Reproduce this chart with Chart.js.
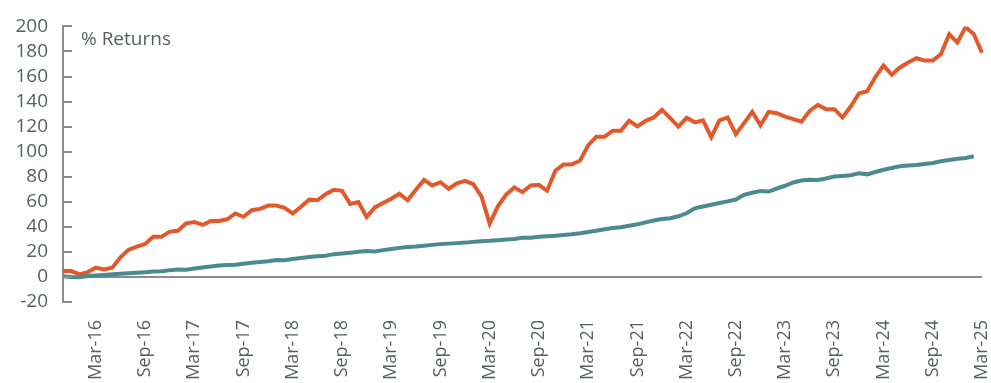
<!DOCTYPE html>
<html>
<head>
<meta charset="utf-8">
<script src="https://cdn.jsdelivr.net/npm/chart.js@4"></script>
<style>
  html, body { margin: 0; padding: 0; background: #ffffff; }
  #wrap { width: 991px; height: 383px; }
</style>
</head>
<body>
<div id="wrap"><canvas id="chart" width="991" height="383"></canvas></div>
<script>
// Month labels, Nov-15 through Mar-25
const months = ['Jan','Feb','Mar','Apr','May','Jun','Jul','Aug','Sep','Oct','Nov','Dec'];
const categories = [];
for (let y = 2015, m = 10; y < 2025 || (y === 2025 && m <= 2); ) {
  categories.push(months[m] + '-' + String(y).slice(2));
  m++; if (m === 12) { m = 0; y++; }
}

// Cumulative % returns, orange series
const seriesOrange = [
  4.7, 4.7, 2.1, 3.9, 7.4, 6.0, 7.4, 15.7, 21.8, 24.2, 26.3, 32.0,
  32.0, 36.2, 36.8, 42.8, 43.9, 41.5, 44.6, 44.6, 46.0, 50.7, 48.0, 53.3,
  54.3, 57.0, 57.0, 55.1, 50.7, 56.0, 61.7, 61.2, 66.0, 69.6, 68.8, 58.3,
  59.8, 47.8, 55.5, 59.0, 62.5, 66.4, 61.2, 69.6, 77.5, 73.0, 75.6, 70.4,
  74.8, 76.7, 74.0, 64.3, 42.5, 56.4, 65.7, 71.4, 67.7, 73.0, 73.5, 68.8,
  84.8, 89.8, 89.8, 92.7, 105.0, 112.0, 112.0, 116.8, 116.8, 124.7, 120.2, 124.7,
  127.3, 133.5, 126.8, 120.0, 127.0, 123.4, 125.0, 111.6, 125.0, 127.3, 114.0, 122.8,
  131.8, 121.0, 131.8, 130.7, 128.0, 126.0, 124.0, 132.6, 137.3, 133.9, 133.9, 127.3,
  136.0, 146.5, 148.3, 159.6, 168.8, 161.4, 167.2, 171.2, 174.6, 172.7, 172.7, 178.0,
  193.7, 187.2, 199.5, 193.7, 179.0
];

// Cumulative % returns, teal series (ends Feb-25)
const seriesTeal = [
  0.5, 0.0, -0.3, 0.8, 1.2, 1.6, 2.1, 2.5, 2.9, 3.4, 3.8, 4.3,
  4.6, 5.4, 5.9, 5.7, 6.8, 7.6, 8.4, 9.1, 9.5, 9.8, 10.6, 11.3,
  11.9, 12.6, 13.5, 13.4, 14.3, 15.1, 16.0, 16.5, 17.0, 18.2, 18.8, 19.4,
  20.1, 20.8, 20.4, 21.4, 22.3, 23.2, 23.9, 24.3, 24.9, 25.6, 26.2, 26.6,
  27.0, 27.4, 28.0, 28.5, 28.8, 29.3, 29.8, 30.3, 31.2, 31.3, 32.0, 32.4,
  32.8, 33.5, 34.0, 34.8, 35.8, 36.9, 38.0, 39.0, 39.6, 40.8, 42.0, 43.6,
  45.0, 46.2, 46.8, 48.4, 50.8, 54.8, 56.2, 57.6, 59.0, 60.3, 61.8, 65.6,
  67.2, 68.6, 68.2, 70.6, 72.8, 75.4, 77.0, 77.6, 77.4, 78.6, 80.1, 80.6,
  81.2, 82.7, 81.9, 83.8, 85.6, 87.0, 88.3, 88.9, 89.3, 90.1, 91.0, 92.4,
  93.4, 94.4, 95.0, 96.4, null
];

// Y-axis ticks
const yTicks = [-20, 0, 20, 40, 60, 80, 100, 120, 140, 160, 180, 200];
const axisTitle = '% Returns';

const TEXT = '#5a5d61';
const AXIS = '#8a8c8e';
const FONT = '"Open Sans", "DejaVu Sans", sans-serif';

// Short tick marks on the inner side of the y-axis, plus the axis title
const innerTicks = {
  id: 'innerTicks',
  afterDraw(chart) {
    const { ctx, chartArea, scales } = chart;
    const y = scales.y;
    ctx.save();
    ctx.strokeStyle = AXIS;
    ctx.lineWidth = 2;
    yTicks.forEach(v => {
      const py = Math.round(y.getPixelForValue(v));
      ctx.beginPath();
      ctx.moveTo(chartArea.left, py);
      ctx.lineTo(chartArea.left + 9, py);
      ctx.stroke();
    });
    ctx.fillStyle = TEXT;
    ctx.font = '19px ' + FONT;
    ctx.textAlign = 'left';
    ctx.textBaseline = 'alphabetic';
    ctx.fillText(axisTitle, chartArea.left + 18, chartArea.top + 19);
    ctx.restore();
  }
};

new Chart(document.getElementById('chart'), {
  type: 'line',
  data: {
    labels: categories,
    datasets: [
      {
        label: 'Teal',
        data: seriesTeal,
        borderColor: '#4b8b90',
        borderWidth: 4,
        pointRadius: 0,
        tension: 0,
        fill: false
      },
      {
        label: 'Orange',
        data: seriesOrange,
        borderColor: '#e25a2b',
        borderWidth: 4,
        pointRadius: 0,
        tension: 0,
        fill: false
      }
    ]
  },
  options: {
    responsive: false,
    animation: false,
    layout: { padding: { top: 23, right: 9, left: 0, bottom: 0 } },
    plugins: {
      legend: { display: false },
      tooltip: { enabled: false }
    },
    scales: {
      x: {
        grid: { display: false, drawTicks: false },
        border: { display: false },
        ticks: {
          autoSkip: false,
          maxRotation: 90,
          minRotation: 90,
          padding: 18,
          color: TEXT,
          font: { family: FONT, size: 18 },
          callback: function (val, idx) {
            const l = categories[idx];
            return (l.startsWith('Mar') || l.startsWith('Sep')) ? l : '';
          }
        },
        afterFit(scale) {
          scale.height = 81;
          scale.paddingLeft = 0;
          scale.paddingRight = 0;
        }
      },
      y: {
        min: -20,
        max: 200,
        afterBuildTicks(scale) { scale.ticks = yTicks.map(v => ({ value: v })); },
        grid: {
          drawTicks: false,
          lineWidth: 2,
          color: ctx => (ctx.tick && ctx.tick.value === 0) ? AXIS : 'rgba(0,0,0,0)'
        },
        border: { display: true, color: AXIS, width: 2 },
        ticks: {
          autoSkip: false,
          padding: 15,
          color: TEXT,
          font: { family: FONT, size: 19 }
        },
        afterFit(scale) { scale.width = 63; }
      }
    }
  },
  plugins: [innerTicks]
});
</script>
</body>
</html>
